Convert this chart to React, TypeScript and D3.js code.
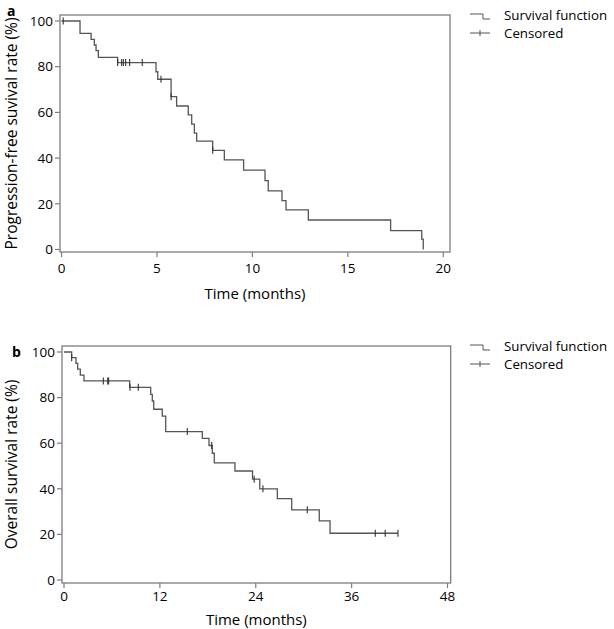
import React from "react";
import * as d3 from "d3";

// Progression-free survival (panel a)
const pfsTimes = [0, 0.97, 1.55, 1.72, 1.81, 1.93, 2.94, 4.95, 5.04, 5.74, 6.03, 6.64, 6.82, 6.96, 7.08, 7.92, 8.53, 9.54, 10.66, 10.83, 11.55, 11.76, 12.93, 17.24, 18.87, 18.95];
const pfsSurvival = [100, 94.6, 92.0, 89.5, 87.0, 84.1, 81.8, 77.8, 74.5, 66.9, 62.8, 58.9, 54.9, 50.9, 47.4, 43.4, 39.2, 34.7, 30.1, 25.7, 21.4, 17.3, 12.9, 8.3, 4.5, 0];
const pfsCensored = [0.09, 2.94, 3.15, 3.24, 3.36, 3.57, 4.23, 5.21, 5.74, 7.92];
const pfsXTicks = [0, 5, 10, 15, 20];

// Overall survival (panel b)
const osTimes = [0, 0.96, 1.5, 1.71, 2.04, 2.5, 8.22, 10.85, 11.05, 11.23, 12.3, 12.73, 17.31, 18.15, 18.56, 18.81, 21.4, 23.6, 24.5, 26.7, 28.5, 31.95, 33.3];
const osSurvival = [100, 97.5, 95.0, 92.5, 89.9, 87.3, 84.5, 81.4, 78.5, 74.9, 71.9, 65.1, 62.1, 59.0, 55.6, 51.4, 47.8, 44.2, 40.0, 35.7, 30.8, 25.9, 20.5];
const osCensored = [0.96, 4.92, 5.47, 5.59, 8.26, 9.3, 15.43, 18.49, 23.8, 24.9, 30.45, 38.96, 40.2, 41.8];
const osXTicks = [0, 12, 24, 36, 48];

const yTicks = [0, 20, 40, 60, 80, 100];

const FONT = "'Open Sans', 'Noto Sans', sans-serif";
const frameColour = "#7d7d7d";
const lineColour = "#555";

type PanelProps = {
  letter: string;
  yLabel: string;
  times: number[];
  surv: number[];
  censored: number[];
  xTicks: number[];
  xRange: [number, number];
  yRange: [number, number];
  frame: { left: number; right: number; top: number; bottom: number };
  letterPos: [number, number];
  tickDy: number;
  titleDy: number;
};

const Panel = ({ letter, yLabel, times, surv, censored, xTicks, xRange, yRange, frame, letterPos, tickDy, titleDy }: PanelProps) => {
  const x = d3.scaleLinear().domain([xTicks[0], xTicks[xTicks.length - 1]]).range(xRange);
  const y = d3.scaleLinear().domain([0, 100]).range(yRange);

  const pts: [number, number][] = times.map((t, i) => [t, surv[i]]);
  const lastCensor = d3.max(censored) ?? 0;
  if (lastCensor > times[times.length - 1]) pts.push([lastCensor, surv[surv.length - 1]]);

  const line = d3
    .line<[number, number]>()
    .x((d) => x(d[0]))
    .y((d) => y(d[1]))
    .curve(d3.curveStepAfter);

  // survival level at a censor time
  const levelAt = (t: number) => {
    let s = surv[0];
    times.forEach((tt, i) => {
      if (tt <= t) s = surv[i];
    });
    return s;
  };

  const midX = (frame.left + frame.right) / 2;
  const midY = (frame.top + frame.bottom) / 2;

  return (
    <g>
      <text x={letterPos[0]} y={letterPos[1]} fontSize={14} fontWeight="bold" fontFamily={FONT}>
        {letter}
      </text>
      <rect
        x={frame.left}
        y={frame.top}
        width={frame.right - frame.left}
        height={frame.bottom - frame.top}
        fill="none"
        stroke={frameColour}
        strokeWidth={1.3}
      />
      {yTicks.map((v) => (
        <g key={"y" + v}>
          <line x1={frame.left - 5} x2={frame.left} y1={y(v)} y2={y(v)} stroke={frameColour} strokeWidth={1.2} />
          <text x={frame.left - 7} y={y(v)} dy="0.35em" textAnchor="end" fontSize={13.5} fontFamily={FONT}>
            {v}
          </text>
        </g>
      ))}
      {xTicks.map((v) => (
        <g key={"x" + v}>
          <line x1={x(v)} x2={x(v)} y1={frame.bottom} y2={frame.bottom + 5} stroke={frameColour} strokeWidth={1.2} />
          <text x={x(v)} y={frame.bottom + tickDy} textAnchor="middle" fontSize={13.5} fontFamily={FONT}>
            {v}
          </text>
        </g>
      ))}
      <text x={midX} y={frame.bottom + titleDy} textAnchor="middle" fontSize={15} fontFamily={FONT}>
        Time (months)
      </text>
      <text
        transform={`translate(17, ${midY}) rotate(-90)`}
        textAnchor="middle"
        fontSize={15.5}
        fontFamily={FONT}
      >
        {yLabel}
      </text>
      <path d={line(pts) ?? ""} fill="none" stroke={lineColour} strokeWidth={1.3} />
      {censored.map((t, i) => (
        <line
          key={"c" + i}
          x1={x(t)}
          x2={x(t)}
          y1={y(levelAt(t)) - 3.5}
          y2={y(levelAt(t)) + 3.5}
          stroke="#333"
          strokeWidth={1.1}
        />
      ))}
      {/* legend */}
      <g fontFamily={FONT} fontSize={13.3}>
        <path d={`M470,${frame.top - 1}H483V${frame.top + 4}H490`} fill="none" stroke={lineColour} strokeWidth={1} />
        <text x={504} y={frame.top} dy="0.35em">
          Survival function
        </text>
        <line x1={470} x2={490} y1={frame.top + 18} y2={frame.top + 18} stroke={lineColour} strokeWidth={1} />
        <line x1={480} x2={480} y1={frame.top + 15} y2={frame.top + 21} stroke={lineColour} strokeWidth={1} />
        <text x={504} y={frame.top + 18} dy="0.35em">
          Censored
        </text>
      </g>
    </g>
  );
};

const App = () => {
  return (
    <svg width={614} height={629} style={{ position: "absolute", left: 0, top: 0, background: "#fff" }}>
      <Panel
        letter="a"
        yLabel="Progression-free suvival rate (%)"
        times={pfsTimes}
        surv={pfsSurvival}
        censored={pfsCensored}
        xTicks={pfsXTicks}
        xRange={[61.5, 443.3]}
        yRange={[249.5, 21]}
        frame={{ left: 60, right: 450, top: 15, bottom: 252 }}
        letterPos={[7, 16]}
        tickDy={21}
        titleDy={47}
      />
      <Panel
        letter="b"
        yLabel="Overall survival rate (%)"
        times={osTimes}
        surv={osSurvival}
        censored={osCensored}
        xTicks={osXTicks}
        xRange={[64, 447.5]}
        yRange={[580, 352]}
        frame={{ left: 62, right: 450.7, top: 346, bottom: 583 }}
        letterPos={[12, 357]}
        tickDy={18}
        titleDy={42}
      />
    </svg>
  );
};

export default App;
